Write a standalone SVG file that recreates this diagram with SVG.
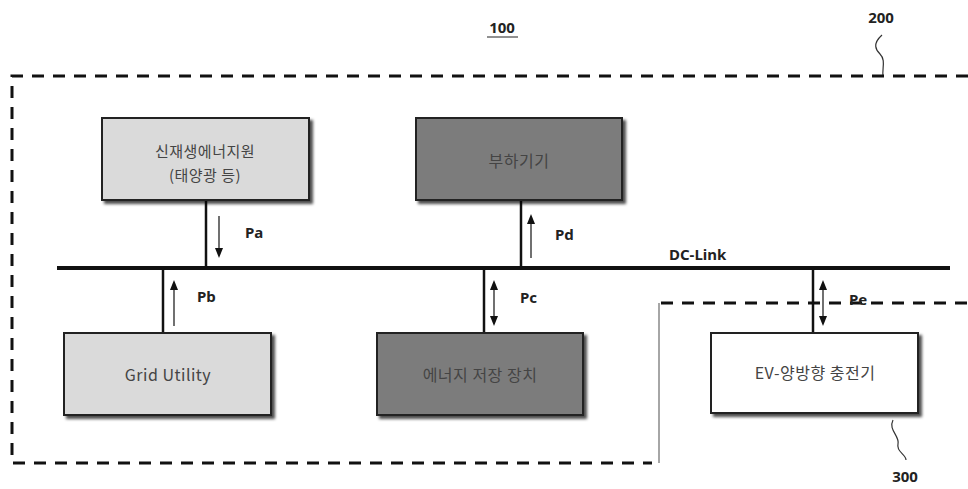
<svg xmlns="http://www.w3.org/2000/svg" width="968" height="489" viewBox="0 0 968 489">
<defs>
<filter id="sh" x="-10%" y="-10%" width="130%" height="140%">
<feDropShadow dx="3" dy="3" stdDeviation="1.5" flood-color="#000" flood-opacity="0.7"/>
</filter>
<marker id="ah" markerWidth="10" markerHeight="8" refX="5" refY="4" orient="auto-start-reverse" markerUnits="userSpaceOnUse">
<path d="M0,0 L10,4 L0,8 Z" fill="#111"/>
</marker>
</defs>
<style>
.box{stroke:#222;stroke-width:2;filter:url(#sh)}
.light{fill:#dadada}
.dark{fill:#7c7c7c}
.white{fill:#fff}
.bt{font-family:"Noto Sans CJK KR","Noto Sans",sans-serif;font-size:16px;fill:#444;text-anchor:middle;letter-spacing:0.5px}
.bt2{font-size:15px}
.lbl{font-family:"Noto Sans","Liberation Sans",sans-serif;font-size:15px;font-weight:bold;fill:#222}
.dash{fill:none;stroke:#111;stroke-width:3;stroke-dasharray:12,9}
.conn{stroke:#111;stroke-width:2.5;fill:none}
.arr{stroke:#111;stroke-width:1.2;fill:none}
.sq{fill:none;stroke:#333;stroke-width:1.2}
</style>
<rect width="968" height="489" fill="#fff"/>
<g id="labels">
<text x="502" y="33" class="lbl" text-anchor="middle">100</text>
<line x1="487" y1="37" x2="518" y2="37" stroke="#222" stroke-width="1"/>
<text x="881" y="23" class="lbl" text-anchor="middle">200</text>
<path class="sq" d="M882,35 C872,44 876,50 880,54 C886,60 882,68 883,76"/>
<text x="905" y="482" class="lbl" text-anchor="middle">300</text>
<path class="sq" d="M893,420 C888,430 900,436 898,444 C896,452 906,454 906,460"/>
</g>
<g id="boundary-200">
<path class="dash" d="M968,76 L12,76 L12,463 L652,463"/>
</g>
<g id="boundary-300">
<line x1="661" y1="303" x2="968" y2="303" class="dash"/>
<line x1="659" y1="303" x2="659" y2="463" stroke="#888" stroke-width="1.5"/>
</g>
<g id="connectors">
<line x1="57" y1="268" x2="950" y2="268" stroke="#111" stroke-width="4"/>
<text x="669" y="260" class="lbl">DC-Link</text>
<line class="conn" x1="206" y1="200" x2="206" y2="268"/>
<line class="conn" x1="521" y1="200" x2="521" y2="268"/>
<line class="conn" x1="163" y1="268" x2="163" y2="333"/>
<line class="conn" x1="484" y1="268" x2="484" y2="333"/>
<line class="conn" x1="813" y1="268" x2="813" y2="333"/>
<line class="arr" x1="219" y1="216" x2="219" y2="253" marker-end="url(#ah)"/>
<text x="245" y="238" class="lbl">Pa</text>
<line class="arr" x1="531" y1="258" x2="531" y2="219" marker-end="url(#ah)"/>
<text x="555" y="240" class="lbl">Pd</text>
<line class="arr" x1="174" y1="326" x2="174" y2="285" marker-end="url(#ah)"/>
<text x="197" y="302" class="lbl">Pb</text>
<line class="arr" x1="494" y1="285" x2="494" y2="321" marker-start="url(#ah)" marker-end="url(#ah)"/>
<text x="520" y="303" class="lbl">Pc</text>
<line class="arr" x1="823" y1="285" x2="823" y2="321" marker-start="url(#ah)" marker-end="url(#ah)"/>
<text x="849" y="305" class="lbl" fill="#555">Pe</text>
</g>
<g id="node-renewable">
<rect class="box light" x="102" y="118" width="207" height="82"/>
<text class="bt bt2" x="205" y="157">신재생에너지원</text>
<text class="bt bt2" x="205" y="181">(태양광 등)</text>
</g>
<g id="node-load">
<rect class="box dark" x="416" y="118" width="206" height="82"/>
<text class="bt" x="519" y="167">부하기기</text>
</g>
<g id="node-grid">
<rect class="box light" x="64" y="333" width="207" height="82"/>
<text class="bt" x="168" y="381">Grid Utility</text>
</g>
<g id="node-storage">
<rect class="box dark" x="377" y="333" width="206" height="82"/>
<text class="bt" x="480" y="381">에너지 저장 장치</text>
</g>
<g id="node-ev">
<rect class="box white" x="711" y="333" width="207" height="80"/>
<text class="bt" x="815" y="379">EV-양방향 충전기</text>
</g>
</svg>
